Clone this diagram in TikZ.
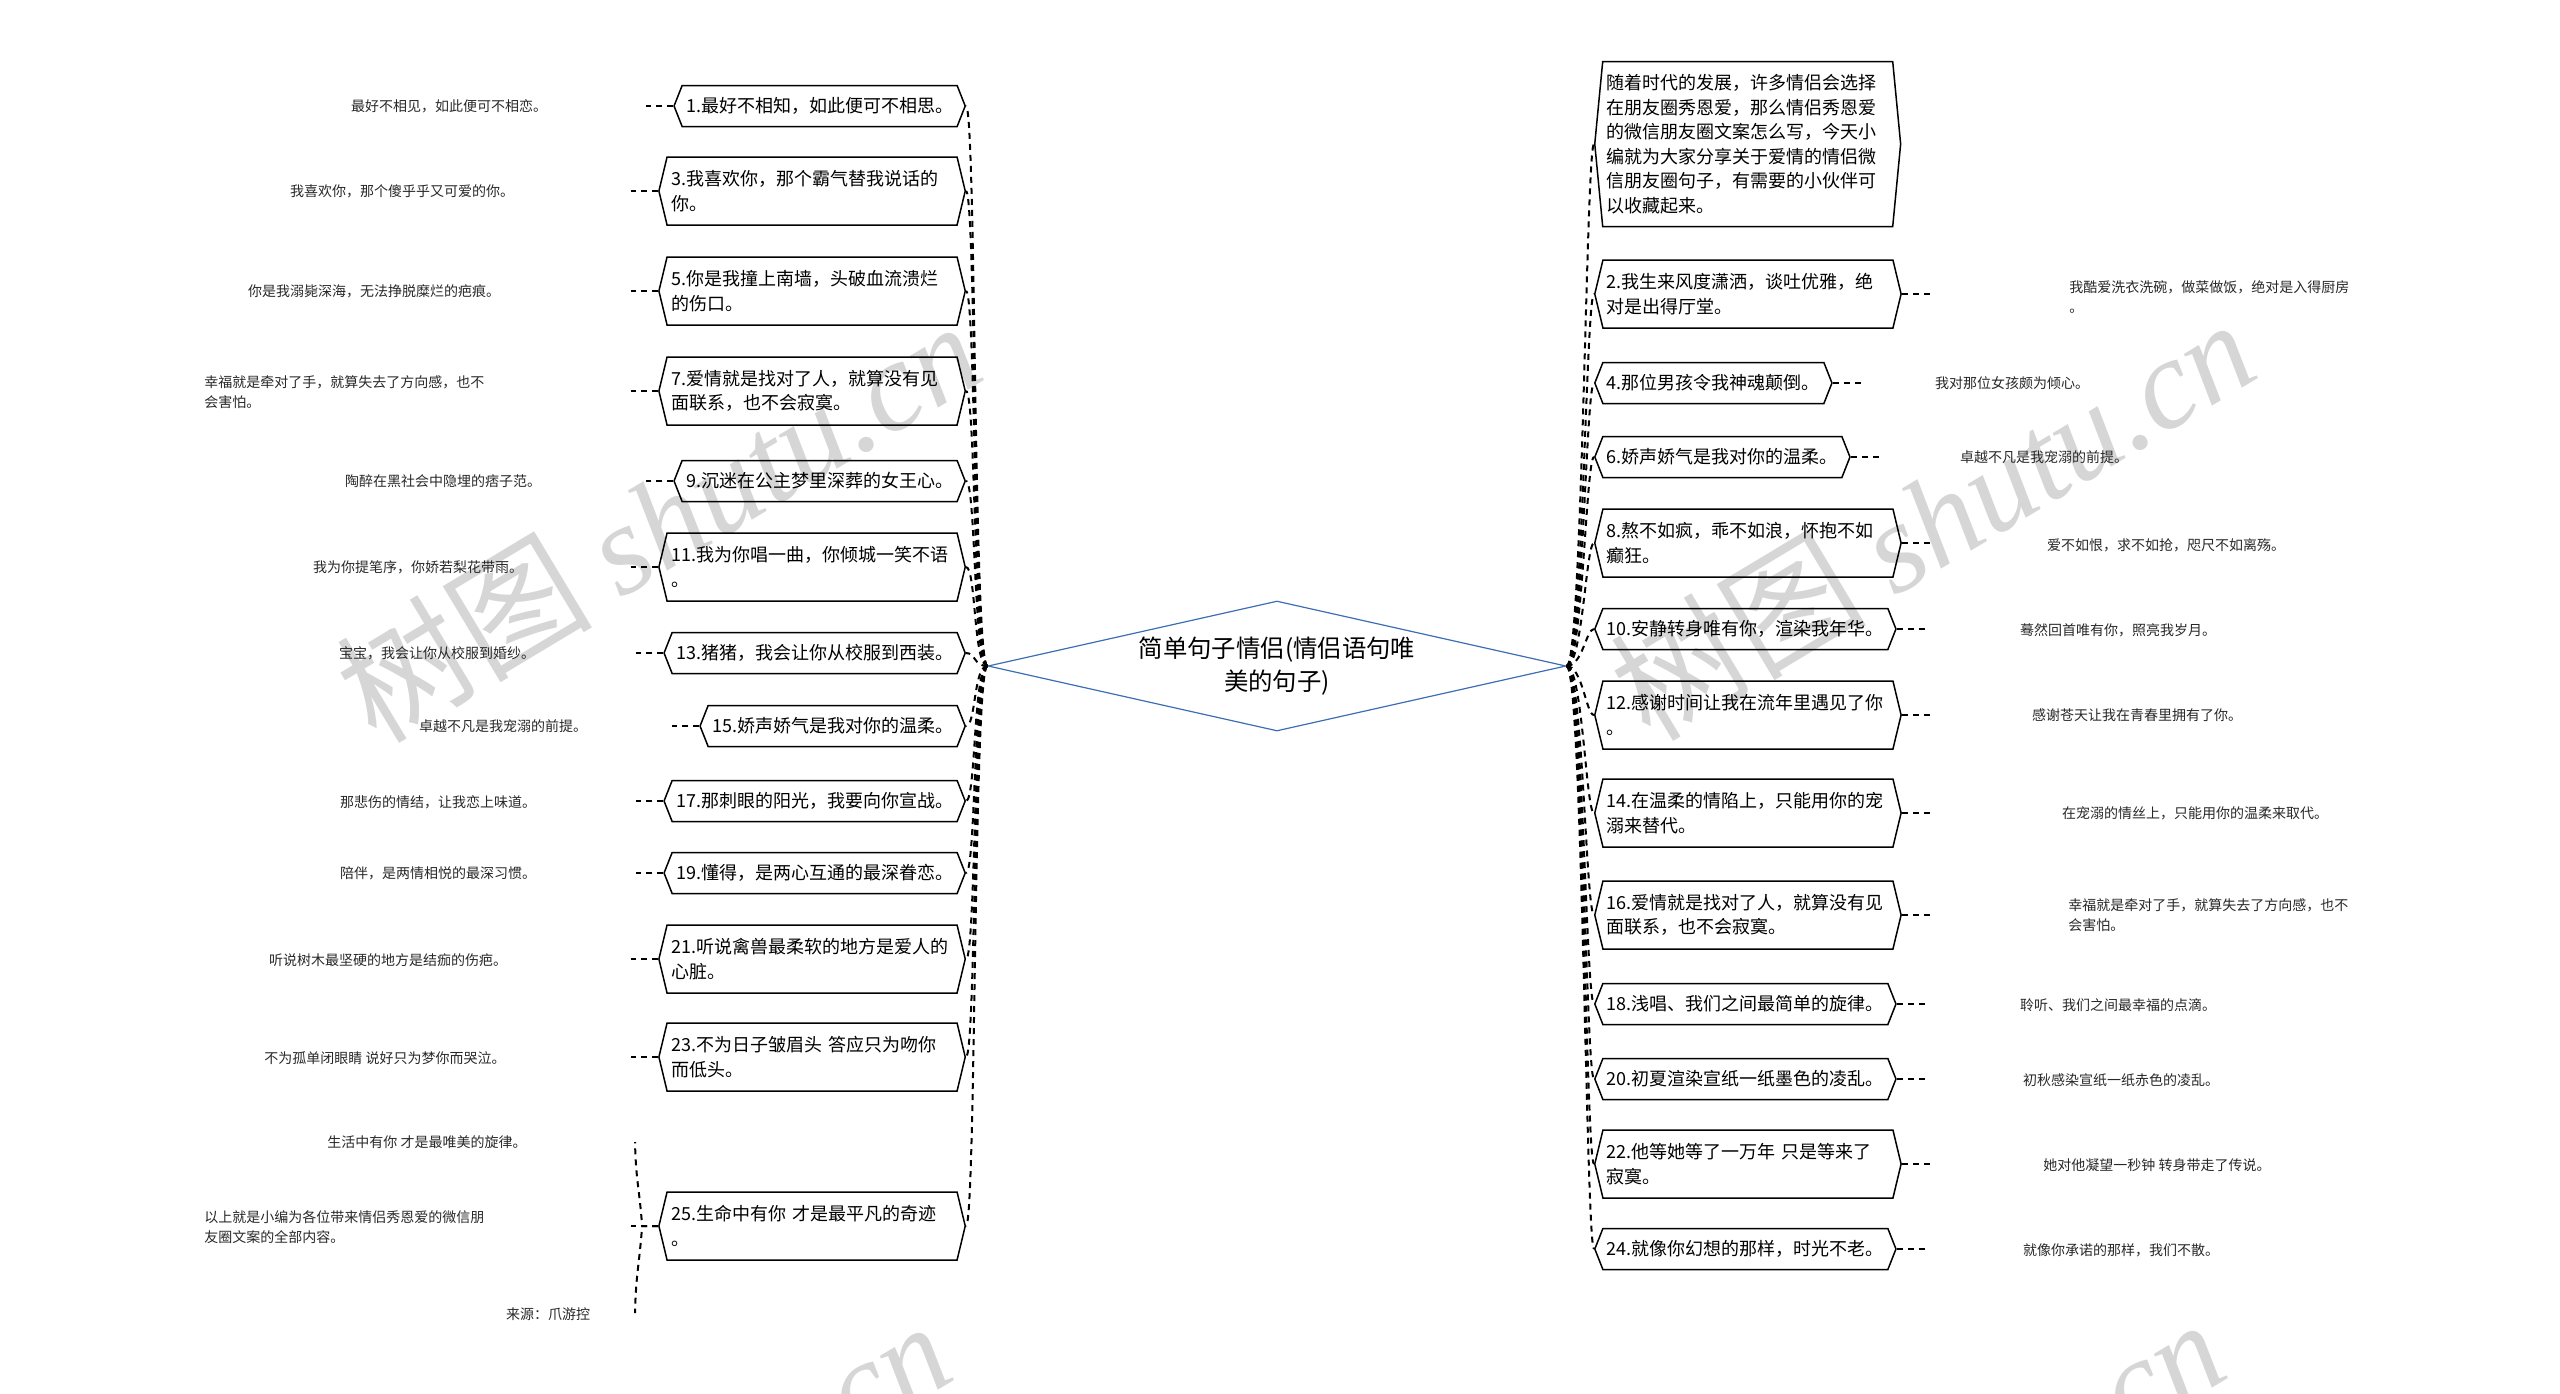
\documentclass[tikz,border=0pt]{standalone}
\usepackage{fontspec}
\newfontfamily\cjk{Noto Sans CJK SC}
\newfontfamily\wmlatin{Liberation Serif}
\usepackage{tikz}
\usetikzlibrary{shapes.geometric,shapes.symbols}
\definecolor{rootblue}{RGB}{60,110,180}
\definecolor{leafgray}{RGB}{40,40,40}
\definecolor{wmgray}{RGB}{214,214,214}

\begin{document}
\begin{tikzpicture}[x=0.5pt,y=-0.5pt,
  root/.style={diamond,draw=rootblue,line width=0.6pt,aspect=4.5,inner sep=0pt,minimum width=289pt,minimum height=65pt,align=center,font=\cjk\fontsize{12.2}{16.3}\selectfont},
  box/.style={signal,signal to=east and west,signal pointer angle=137,draw,line width=0.75pt,inner xsep=2pt,inner ysep=2pt,minimum height=20.5pt,align=left,font=\cjk\fontsize{9}{12.25}\selectfont},
  twoline/.style={text width=141pt,minimum height=34pt,signal pointer angle=153},
  leaf/.style={inner sep=0pt,align=left,text=leafgray,font=\cjk\fontsize{7}{9.8}\selectfont},
  lnk/.style={dash pattern=on 3pt off 2.5pt,line width=1pt},
  wm/.style={text=wmgray,rotate=31,inner sep=0pt,font=\cjk\fontsize{64}{66}\selectfont}]
\useasboundingbox (0,0) rectangle (2560,1393);
% Watermarks
\node[wm] (w1) at (658,520) {树图 {\wmlatin\itshape shutu.cn}};
\node[wm] (w2) at (1932,518) {树图 {\wmlatin\itshape shutu.cn}};
\node[wm] (w3) at (628,1520) {树图 {\wmlatin\itshape shutu.cn}};
\node[wm] (w4) at (1902,1518) {树图 {\wmlatin\itshape shutu.cn}};
% Root
\node[root] (root) at (1277,666) {简单句子情侣(情侣语句唯\\美的句子)};
% Left branches
\def\bl{966} \def\br{1594}
\node[box,anchor=east] (b1) at (\bl,106) {1.最好不相知，如此便可不相思。};
\node[box,twoline,anchor=east] (b3) at (\bl,191) {3.我喜欢你，那个霸气替我说话的\\你。};
\node[box,twoline,anchor=east] (b5) at (\bl,291) {5.你是我撞上南墙，头破血流溃烂\\的伤口。};
\node[box,twoline,anchor=east] (b7) at (\bl,391) {7.爱情就是找对了人，就算没有见\\面联系，也不会寂寞。};
\node[box,anchor=east] (b9) at (\bl,481) {9.沉迷在公主梦里深葬的女王心。};
\node[box,twoline,anchor=east] (b11) at (\bl,567) {11.我为你唱一曲，你倾城一笑不语\\。};
\node[box,anchor=east] (b13) at (\bl,653) {13.猪猪，我会让你从校服到西装。};
\node[box,anchor=east] (b15) at (\bl,726) {15.娇声娇气是我对你的温柔。};
\node[box,anchor=east] (b17) at (\bl,801) {17.那刺眼的阳光，我要向你宣战。};
\node[box,anchor=east] (b19) at (\bl,873) {19.懂得，是两心互通的最深眷恋。};
\node[box,twoline,anchor=east] (b21) at (\bl,959) {21.听说禽兽最柔软的地方是爱人的\\心脏。};
\node[box,twoline,anchor=east] (b23) at (\bl,1057) {23.不为日子皱眉头 答应只为吻你\\而低头。};
\node[box,twoline,anchor=east] (b25) at (\bl,1226) {25.生命中有你 才是最平凡的奇迹\\。};
% Right branches
\node[box,twoline,anchor=west,minimum height=82.5pt,signal pointer angle=169] (r0) at (\br,144) {随着时代的发展，许多情侣会选择\\在朋友圈秀恩爱，那么情侣秀恩爱\\的微信朋友圈文案怎么写，今天小\\编就为大家分享关于爱情的情侣微\\信朋友圈句子，有需要的小伙伴可\\以收藏起来。};
\node[box,twoline,anchor=west] (r2) at (\br,294) {2.我生来风度潇洒，谈吐优雅，绝\\对是出得厅堂。};
\node[box,anchor=west] (r4) at (\br,383) {4.那位男孩令我神魂颠倒。};
\node[box,anchor=west] (r6) at (\br,457) {6.娇声娇气是我对你的温柔。};
\node[box,twoline,anchor=west] (r8) at (\br,543) {8.熬不如疯，乖不如浪，怀抱不如\\癫狂。};
\node[box,anchor=west] (r10) at (\br,629) {10.安静转身唯有你，渲染我年华。};
\node[box,twoline,anchor=west] (r12) at (\br,715) {12.感谢时间让我在流年里遇见了你\\。};
\node[box,twoline,anchor=west] (r14) at (\br,813) {14.在温柔的情陷上，只能用你的宠\\溺来替代。};
\node[box,twoline,anchor=west] (r16) at (\br,915) {16.爱情就是找对了人，就算没有见\\面联系，也不会寂寞。};
\node[box,anchor=west] (r18) at (\br,1004) {18.浅唱、我们之间最简单的旋律。};
\node[box,anchor=west] (r20) at (\br,1079) {20.初夏渲染宣纸一纸墨色的凌乱。};
\node[box,twoline,anchor=west] (r22) at (\br,1164) {22.他等她等了一万年 只是等来了\\寂寞。};
\node[box,anchor=west] (r24) at (\br,1249) {24.就像你幻想的那样，时光不老。};
% Left leaves
\node[leaf] (l1) at (449,106) {最好不相见，如此便可不相恋。};
\node[leaf] (l3) at (402,191) {我喜欢你，那个傻乎乎又可爱的你。};
\node[leaf] (l5) at (374,291) {你是我溺毙深海，无法挣脱糜烂的疤痕。};
\node[leaf,anchor=west] (l7) at (204,392) {幸福就是牵对了手，就算失去了方向感，也不\\会害怕。};
\node[leaf] (l9) at (443,481) {陶醉在黑社会中隐埋的痞子范。};
\node[leaf] (l11) at (418,567) {我为你提笔序，你娇若梨花带雨。};
\node[leaf] (l13) at (437,653) {宝宝，我会让你从校服到婚纱。};
\node[leaf] (l15) at (503,726) {卓越不凡是我宠溺的前提。};
\node[leaf] (l17) at (438,802) {那悲伤的情结，让我恋上味道。};
\node[leaf] (l19) at (438,873) {陪伴，是两情相悦的最深习惯。};
\node[leaf] (l21) at (388,960) {听说树木最坚硬的地方是结痂的伤疤。};
\node[leaf] (l23) at (385,1058) {不为孤单闭眼睛 说好只为梦你而哭泣。};
\node[leaf] (l25a) at (427,1142) {生活中有你 才是最唯美的旋律。};
\node[leaf,anchor=west] (l25b) at (204,1227) {以上就是小编为各位带来情侣秀恩爱的微信朋\\友圈文案的全部内容。};
\node[leaf] (l25c) at (548,1314) {来源：爪游控};
% Right leaves
\node[leaf,anchor=west] (m2) at (2069,297) {我酷爱洗衣洗碗，做菜做饭，绝对是入得厨房\\。};
\node[leaf] (m4) at (2012,383) {我对那位女孩颇为倾心。};
\node[leaf] (m6) at (2044,457) {卓越不凡是我宠溺的前提。};
\node[leaf] (m8) at (2166,545) {爱不如恨，求不如抢，咫尺不如离殇。};
\node[leaf] (m10) at (2118,630) {蓦然回首唯有你，照亮我岁月。};
\node[leaf] (m12) at (2137,715) {感谢苍天让我在青春里拥有了你。};
\node[leaf] (m14) at (2195,813) {在宠溺的情丝上，只能用你的温柔来取代。};
\node[leaf,anchor=west] (m16) at (2068,915) {幸福就是牵对了手，就算失去了方向感，也不\\会害怕。};
\node[leaf] (m18) at (2118,1005) {聆听、我们之间最幸福的点滴。};
\node[leaf] (m20) at (2121,1080) {初秋感染宣纸一纸赤色的凌乱。};
\node[leaf] (m22) at (2157,1165) {她对他凝望一秒钟 转身带走了传说。};
\node[leaf] (m24) at (2121,1250) {就像你承诺的那样，我们不散。};
% Root -> branches
\foreach \i in {1,3,...,25} \draw[lnk] (root.west) .. controls +(-14,0) and +(10,0) .. (b\i.east);
\foreach \i in {0,2,...,24} \draw[lnk] (root.east) .. controls +(16,0) and +(-8,0) .. (r\i.west);
% Branches -> leaves
\foreach \i in {1,3,...,23} \draw[lnk] (b\i.west) -- ++(-27,0) coordinate (s\i);
\foreach \i in {2,4,...,24} \draw[lnk] (r\i.east) -- ++(28,0) coordinate (t\i);
\draw[lnk] (b25.west) -- ++(-27,0) coordinate (s25);
\coordinate (s25a) at (635,1142);
\coordinate (s25c) at (635,1313);
\draw[lnk] (b25.west) -- ++(-16,0) .. controls +(-3,-40) and +(1,40) .. (s25a);
\draw[lnk] (b25.west) -- ++(-16,0) .. controls +(-3,40) and +(1,-40) .. (s25c);
\end{tikzpicture}
\end{document}
